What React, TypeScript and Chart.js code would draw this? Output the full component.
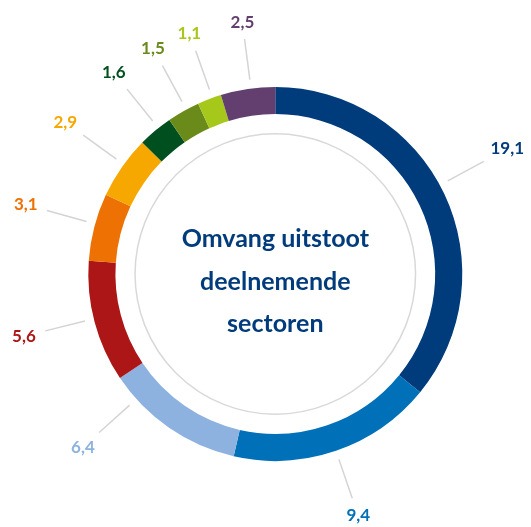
import React, { useEffect, useRef } from "react";
import { Chart, registerables } from "chart.js";

Chart.register(...registerables);

const sectors = [
  "Sector 1",
  "Sector 2",
  "Sector 3",
  "Sector 4",
  "Sector 5",
  "Sector 6",
  "Sector 7",
  "Sector 8",
  "Sector 9",
  "Sector 10",
];
const values = [19.1, 9.4, 6.4, 5.6, 3.1, 2.9, 1.6, 1.5, 1.1, 2.5];
const valueLabels = ["19,1", "9,4", "6,4", "5,6", "3,1", "2,9", "1,6", "1,5", "1,1", "2,5"];
const colors = [
  "#003B7B",
  "#0070B8",
  "#8EB2E0",
  "#AC1616",
  "#EE7203",
  "#F6A800",
  "#00501F",
  "#6A8A1A",
  "#A6C81A",
  "#623F6E",
];
const centerLines = ["Omvang uitstoot", "deelnemende", "sectoren"];
// label angle adjustments in degrees (designer placement)
const labelShift = [-3, 0, 13.5, 1, 1, 1, 1.2, 1, 1, 1];

const ringLabels = {
  id: "ringLabels",
  afterDraw(chart: any) {
    const ctx = chart.ctx;
    const meta = chart.getDatasetMeta(0);
    if (!meta.data.length) return;
    const first = meta.data[0];
    const cx = first.x;
    const cy = first.y;
    const R = first.outerRadius;
    ctx.save();
    // inner grey circle
    ctx.beginPath();
    ctx.arc(cx, cy, R * 0.75, 0, Math.PI * 2);
    ctx.strokeStyle = "#d9d9d9";
    ctx.lineWidth = 1.5;
    ctx.stroke();

    // center text
    ctx.fillStyle = "#003B7B";
    ctx.font = "bold 25px Lato";
    ctx.textAlign = "center";
    ctx.textBaseline = "alphabetic";
    const offs = [-27, 16, 58];
    centerLines.forEach((t, i) => ctx.fillText(t, cx, cy + offs[i]));

    // labels with leader lines
    ctx.font = "bold 17px Lato";
    ctx.textBaseline = "middle";
    meta.data.forEach((arc: any, i: number) => {
      const a = (arc.startAngle + arc.endAngle) / 2 + (labelShift[i] * Math.PI) / 180;
      const c = Math.cos(a);
      const s = Math.sin(a);
      const r1 = R + 9;
      const r2 = R + 50;
      ctx.beginPath();
      ctx.moveTo(cx + r1 * c, cy + r1 * s);
      ctx.lineTo(cx + r2 * c, cy + r2 * s);
      ctx.strokeStyle = "#d4d4d4";
      ctx.lineWidth = 1.5;
      ctx.stroke();
      const w = ctx.measureText(valueLabels[i]).width;
      const h = 12;
      const proj = Math.abs(c) * (w / 2) + Math.abs(s) * (h / 2);
      const rt = r2 + 9 + proj;
      ctx.fillStyle = colors[i];
      ctx.fillText(valueLabels[i], cx + rt * c, cy + rt * s);
    });
    ctx.restore();
  },
};

export default function App() {
  const ref = useRef<HTMLCanvasElement | null>(null);
  useEffect(() => {
    if (!ref.current) return;
    const chart = new Chart(ref.current, {
      type: "doughnut",
      data: {
        labels: sectors,
        datasets: [
          {
            data: values,
            backgroundColor: colors,
            borderWidth: 0,
          },
        ],
      },
      options: {
        animation: false,
        responsive: false,
        cutout: "85.5%",
        layout: { padding: { left: 88.3, right: 68.7, top: 87, bottom: 66 } },
        plugins: {
          legend: { display: false },
          tooltip: { enabled: false },
        },
      },
      plugins: [ringLabels],
    });
    return () => chart.destroy();
  }, []);
  return (
    <div style={{ position: "fixed", left: 0, top: 0, width: 531, height: 527, background: "#fff" }}>
      <canvas ref={ref} width={531} height={527} style={{ width: 531, height: 527 }} />
    </div>
  );
}
